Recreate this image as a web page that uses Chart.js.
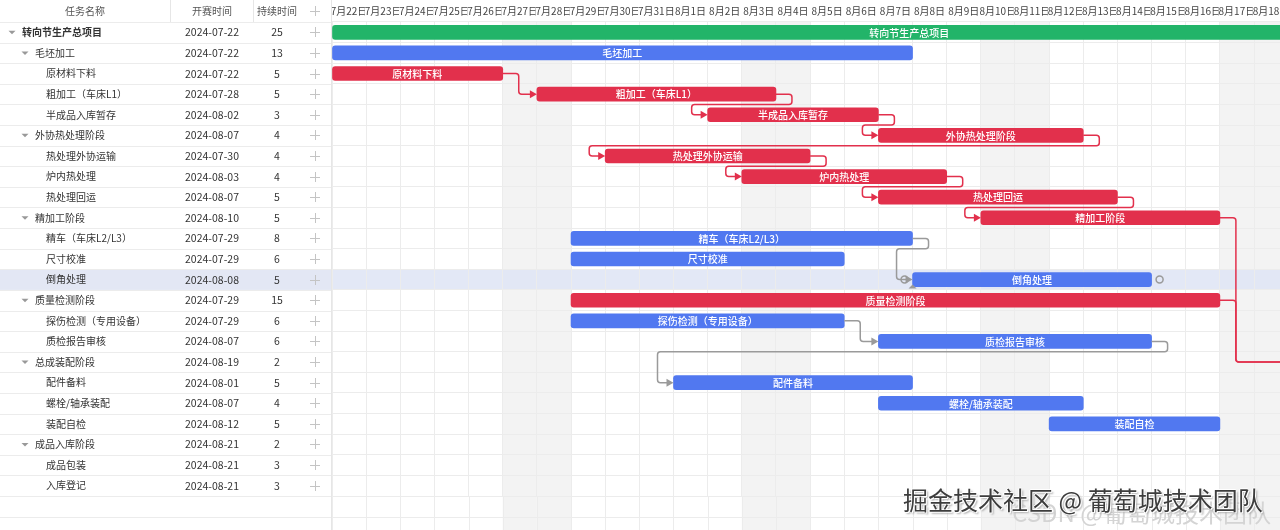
<!DOCTYPE html>
<html>
<head>
<meta charset="utf-8">
<title>转向节生产甘特图</title>
<script src="https://cdn.jsdelivr.net/npm/chart.js@4.4.0/dist/chart.umd.min.js"></script>
<style>
  html, body { margin: 0; padding: 0; background: #fff; }
  #wrap { position: relative; width: 1280px; height: 530px; overflow: hidden;
          font-family: "Noto Sans CJK SC", "Noto Sans", sans-serif; }
  #gantt { display: block; }
  .wm { position: absolute; white-space: nowrap; pointer-events: none; }
  #wm2 { left: 1012px; top: 494px; font-size: 24px; color: #d4d4d4; }
  #wm1 { left: 903px; top: 481px; font-size: 25px; color: #3d3d3d;
         text-shadow: 1px 1px 0 #fff, -1px 0 0 #fff, 0 -1px 0 #fff, 2px 2px 2px #aaa; }
</style>
</head>
<body>
<div id="wrap">
  <canvas id="gantt" width="1280" height="530"></canvas>
  <div class="wm" id="wm2">CSDN @葡萄城技术团队</div>
  <div class="wm" id="wm1">掘金技术社区 @ 葡萄城技术团队</div>
</div>
<script>
// ---- table data ----
var taskNames = ['转向节生产总项目', '毛坯加工', '原材料下料', '粗加工（车床L1）', '半成品入库暂存',
  '外协热处理阶段', '热处理外协运输', '炉内热处理', '热处理回运',
  '精加工阶段', '精车（车床L2/L3）', '尺寸校准', '倒角处理',
  '质量检测阶段', '探伤检测（专用设备）', '质检报告审核',
  '总成装配阶段', '配件备料', '螺栓/轴承装配', '装配自检',
  '成品入库阶段', '成品包装', '入库登记'];
var taskLevels = [0, 1, 2, 2, 2, 1, 2, 2, 2, 1, 2, 2, 2, 1, 2, 2, 1, 2, 2, 2, 1, 2, 2];
var startDates = ['2024-07-22', '2024-07-22', '2024-07-22', '2024-07-28', '2024-08-02',
  '2024-08-07', '2024-07-30', '2024-08-03', '2024-08-07',
  '2024-08-10', '2024-07-29', '2024-07-29', '2024-08-08',
  '2024-07-29', '2024-07-29', '2024-08-07',
  '2024-08-19', '2024-08-01', '2024-08-07', '2024-08-12',
  '2024-08-21', '2024-08-21', '2024-08-21'];
var durations = [25, 13, 5, 5, 3, 4, 4, 4, 5, 5, 8, 6, 5, 15, 6, 6, 2, 5, 4, 5, 2, 3, 3];

// ---- bars (days counted from 7月22日) ----
var barStart = [0, 0, 0, 6, 11, 16, 8, 12, 16, 19, 7, 7, 17, 7, 7, 16, 28, 10, 16, 21, 30, 30, 30];
var barEnd   = [33.8, 17, 5, 13, 16, 22, 14, 18, 23, 26, 17, 15, 24, 26, 15, 24, 30, 17, 22, 26, 32, 33, 33];
var barKind  = ['total', 'task', 'critical', 'critical', 'critical', 'critical', 'critical', 'critical', 'critical',
  'critical', 'task', 'task', 'task', 'critical', 'task', 'task',
  'task', 'task', 'task', 'task', 'task', 'task', 'task'];

// dependencies: [from row, to row]
var links = [[2, 3], [3, 4], [4, 5], [5, 6], [6, 7], [7, 8], [8, 9], [9, 16], [13, 16],
  [10, 12], [14, 15], [15, 17]];

// ---- time axis ----
var dayLabels = ['7月22日', '7月23日', '7月24日', '7月25日', '7月26日', '7月27日', '7月28日',
  '7月29日', '7月30日', '7月31日', '8月1日', '8月2日', '8月3日', '8月4日',
  '8月5日', '8月6日', '8月7日', '8月8日', '8月9日', '8月10日', '8月11日',
  '8月12日', '8月13日', '8月14日', '8月15日', '8月16日', '8月17日', '8月18日'];
var weekendDays = [5, 6, 12, 13, 19, 20, 26, 27];
var selectedRow = 12;

var colors = { total: '#22b469', task: '#5178f0', critical: '#e2304c' };
var linkColors = { total: '#9a9a9a', task: '#9a9a9a', critical: '#e2304c' };
var FONT = '"Noto Sans CJK SC", "Noto Sans", sans-serif';

Chart.defaults.font.family = FONT;

function rowHeight(y) {
  return y.getPixelForValue(1) - y.getPixelForValue(0);
}

// rounded orthogonal polyline
function polyline(ctx, pts, r) {
  ctx.beginPath();
  ctx.moveTo(pts[0][0], pts[0][1]);
  for (var i = 1; i < pts.length - 1; i++) {
    ctx.arcTo(pts[i][0], pts[i][1], pts[i + 1][0], pts[i + 1][1], r);
  }
  ctx.lineTo(pts[pts.length - 1][0], pts[pts.length - 1][1]);
  ctx.stroke();
}

var ganttPlugin = {
  id: 'gantt',
  beforeDraw: function (chart) {
    var ctx = chart.ctx, a = chart.chartArea, x = chart.scales.x, y = chart.scales.y;
    var rh = rowHeight(y);
    ctx.save();
    ctx.fillStyle = '#fff';
    ctx.fillRect(0, 0, chart.width, chart.height);
    // weekend columns
    ctx.fillStyle = '#f3f3f3';
    weekendDays.forEach(function (d) {
      var x0 = x.getPixelForValue(d), x1 = x.getPixelForValue(d + 1);
      ctx.fillRect(x0, a.top, x1 - x0, chart.height - a.top);
    });
    // selected row
    var yc = y.getPixelForValue(selectedRow);
    ctx.fillStyle = 'rgba(222,228,244,0.85)';
    ctx.fillRect(a.left, yc - rh / 2, a.right - a.left, rh);
    // grid continuing below the last row
    ctx.strokeStyle = '#ececec';
    ctx.lineWidth = 1;
    dayLabels.forEach(function (l, i) {
      var px = Math.round(x.getPixelForValue(i)) + 0.5;
      ctx.beginPath();
      ctx.moveTo(px, a.bottom);
      ctx.lineTo(px, chart.height);
      ctx.stroke();
    });
    for (var k = 1; a.bottom + k * rh < chart.height; k++) {
      var py = Math.round(a.bottom + k * rh) + 0.5;
      ctx.beginPath();
      ctx.moveTo(a.left, py);
      ctx.lineTo(a.right, py);
      ctx.stroke();
    }
    ctx.restore();
  },
  afterDatasetsDraw: function (chart) {
    var ctx = chart.ctx, a = chart.chartArea, x = chart.scales.x, y = chart.scales.y;
    var rh = rowHeight(y);
    ctx.save();
    ctx.beginPath();
    ctx.rect(a.left, a.top, a.right - a.left, chart.height - a.top);
    ctx.clip();

    // dependency links
    var g = 16;
    links.forEach(function (l) {
      var f = l[0], t = l[1];
      var sx = x.getPixelForValue(barEnd[f]), sy = y.getPixelForValue(f);
      var tx = x.getPixelForValue(barStart[t]), ty = y.getPixelForValue(t);
      var pts;
      if (tx - sx >= g + 10) {
        pts = [[sx, sy], [sx + g, sy], [sx + g, ty], [tx - 4, ty]];
      } else {
        var my = sy + rh / 2;
        pts = [[sx, sy], [sx + g, sy], [sx + g, my], [tx - g, my], [tx - g, ty], [tx - 4, ty]];
      }
      var c = linkColors[barKind[f]];
      ctx.strokeStyle = c;
      ctx.lineWidth = 1.5;
      polyline(ctx, pts, 3);
      ctx.fillStyle = c;
      ctx.beginPath();
      ctx.moveTo(tx, ty);
      ctx.lineTo(tx - 7, ty - 4);
      ctx.lineTo(tx - 7, ty + 4);
      ctx.closePath();
      ctx.fill();
    });

    // link handles on the selected task
    var sy = y.getPixelForValue(selectedRow);
    ctx.strokeStyle = '#9a9a9a';
    ctx.lineWidth = 1.5;
    [x.getPixelForValue(barStart[selectedRow]) - 8, x.getPixelForValue(barEnd[selectedRow]) + 8].forEach(function (cx) {
      ctx.beginPath();
      ctx.arc(cx, sy, 3.5, 0, Math.PI * 2);
      ctx.stroke();
    });
    var bx = x.getPixelForValue(barStart[selectedRow]);
    ctx.fillStyle = '#9a9a9a';
    ctx.beginPath();
    ctx.moveTo(bx - 4, sy + 9);
    ctx.lineTo(bx, sy + 5);
    ctx.lineTo(bx + 4, sy + 9);
    ctx.closePath();
    ctx.fill();

    // bar captions
    ctx.font = '500 10px ' + FONT;
    ctx.fillStyle = '#fff';
    ctx.textAlign = 'center';
    ctx.textBaseline = 'middle';
    taskNames.forEach(function (name, i) {
      var cx = (x.getPixelForValue(barStart[i]) + x.getPixelForValue(barEnd[i])) / 2;
      ctx.fillText(name, cx, y.getPixelForValue(i) + 0.5);
    });
    ctx.restore();
  },
  afterDraw: function (chart) {
    var ctx = chart.ctx, a = chart.chartArea, y = chart.scales.y;
    var rh = rowHeight(y);
    var W = a.left;
    ctx.save();
    ctx.fillStyle = '#fff';
    ctx.fillRect(0, 0, W, chart.height);
    var yc = y.getPixelForValue(selectedRow);
    ctx.fillStyle = '#e3e7f4';
    ctx.fillRect(0, yc - rh / 2, W, rh);

    // row lines
    ctx.strokeStyle = '#ececec';
    ctx.lineWidth = 1;
    for (var k = 0; a.top + k * rh < chart.height; k++) {
      var py = Math.round(a.top + k * rh) + 0.5;
      ctx.beginPath();
      ctx.moveTo(0, py);
      ctx.lineTo(W, py);
      ctx.stroke();
    }
    // header
    ctx.strokeStyle = '#e6e6e6';
    [170, 253].forEach(function (cx) {
      ctx.beginPath();
      ctx.moveTo(cx + 0.5, 0);
      ctx.lineTo(cx + 0.5, a.top);
      ctx.stroke();
    });
    ctx.beginPath();
    ctx.moveTo(W - 0.5, 0);
    ctx.lineTo(W - 0.5, chart.height);
    ctx.stroke();

    ctx.font = '10px ' + FONT;
    ctx.textBaseline = 'middle';
    ctx.textAlign = 'center';
    ctx.fillStyle = '#555';
    var hy = a.top / 2;
    ctx.fillText('任务名称', 85, hy);
    ctx.fillText('开赛时间', 212, hy);
    ctx.fillText('持续时间', 277, hy);

    function plus(cx, cy) {
      ctx.strokeStyle = '#c4c4c4';
      ctx.lineWidth = 1;
      ctx.beginPath();
      ctx.moveTo(cx - 5, cy + 0.5);
      ctx.lineTo(cx + 5, cy + 0.5);
      ctx.moveTo(cx + 0.5, cy - 5);
      ctx.lineTo(cx + 0.5, cy + 5);
      ctx.stroke();
    }
    plus(315, Math.round(hy));

    var textX = [22, 35, 46], caretX = [12, 25];
    taskNames.forEach(function (name, i) {
      var cy = y.getPixelForValue(i);
      var lv = taskLevels[i];
      if (lv < 2) {
        ctx.fillStyle = '#999';
        ctx.beginPath();
        ctx.moveTo(caretX[lv] - 3.5, cy - 1.5);
        ctx.lineTo(caretX[lv] + 3.5, cy - 1.5);
        ctx.lineTo(caretX[lv], cy + 2);
        ctx.closePath();
        ctx.fill();
      }
      ctx.fillStyle = '#333';
      ctx.textAlign = 'left';
      ctx.font = (lv === 0 ? '600 ' : '') + '10px ' + FONT;
      ctx.fillText(name, textX[lv], cy);
      ctx.font = '10.5px ' + FONT;
      ctx.textAlign = 'center';
      ctx.fillText(startDates[i], 212, cy);
      ctx.fillText(String(durations[i]), 277, cy);
      plus(315, Math.round(cy));
    });
    ctx.restore();
  }
};

var ctx = document.getElementById('gantt').getContext('2d');
var ganttChart = new Chart(ctx, {
  type: 'bar',
  data: {
    labels: taskNames,
    datasets: [{
      data: barStart.map(function (s, i) { return [s, barEnd[i]]; }),
      backgroundColor: barKind.map(function (k) { return colors[k]; }),
      borderRadius: 3,
      borderSkipped: false,
      barThickness: 14
    }]
  },
  options: {
    indexAxis: 'y',
    responsive: false,
    animation: false,
    layout: { padding: { left: 332, right: 0, top: 0, bottom: 34 } },
    plugins: { legend: { display: false }, tooltip: { enabled: false } },
    scales: {
      x: {
        type: 'linear',
        position: 'top',
        min: 0,
        max: 27.76,
        afterFit: function (scale) { scale.height = 22; },
        afterBuildTicks: function (scale) {
          scale.ticks = dayLabels.map(function (l, i) { return { value: i }; });
        },
        ticks: {
          autoSkip: false,
          maxRotation: 0,
          padding: 5,
          labelOffset: 17,
          color: '#444',
          font: { size: 10 },
          showLabelBackdrop: true,
          backdropColor: '#fff',
          backdropPadding: 0,
          callback: function (v) { return dayLabels[v] || ''; }
        },
        grid: { color: '#ececec', drawTicks: false },
        border: { display: false }
      },
      y: {
        type: 'category',
        ticks: { display: false },
        grid: { color: '#ececec', drawTicks: false },
        border: { display: false }
      }
    }
  },
  plugins: [ganttPlugin]
});
</script>
</body>
</html>
